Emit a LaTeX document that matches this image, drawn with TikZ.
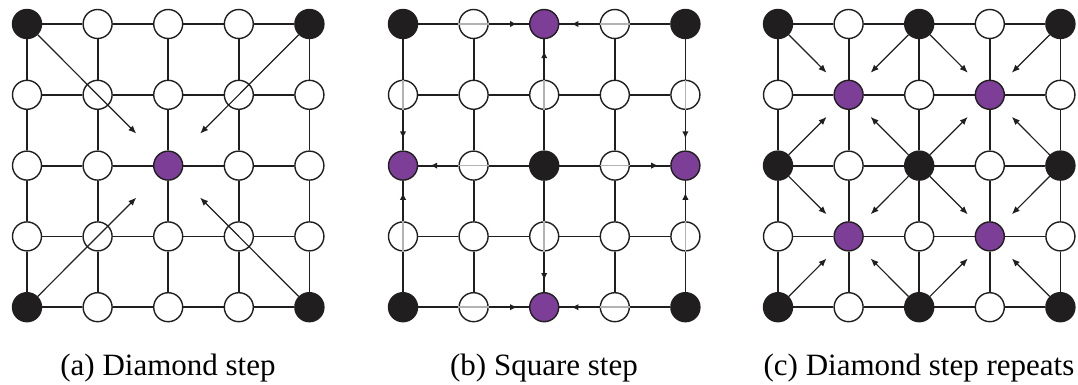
\documentclass[tikz,border=0pt]{standalone}
\usepackage{fontspec}
\setmainfont{Liberation Serif}
\usetikzlibrary{arrows.meta}
\definecolor{pur}{RGB}{125,62,152}
\definecolor{blk}{RGB}{33,30,31}
\tikzset{
  nd/.style={circle, minimum size=29pt, inner sep=0pt, draw=blk, line width=1.4pt},
  wnode/.style={nd, fill=white},
  bnode/.style={nd, fill=blk},
  pnode/.style={nd, fill=pur},
  gridline/.style={draw=blk, line width=1.8pt},
  arr/.style={draw=blk, line width=1.2pt, -{Latex[length=8pt,width=6.5pt]}},
  barr/.style={draw=black!30, line width=1.5pt, -{Latex[length=7pt,width=6.5pt,color=blk]}},
  captext/.style={font=\fontsize{31}{36}\selectfont, anchor=base}
}
\begin{document}
\begin{tikzpicture}[x=1pt,y=-1pt]
\useasboundingbox (0,0) rectangle (1078,385);
% ---------- nodes ----------
\foreach \p/\xo/\kind in {a/27/1,b/403/2,c/778/3}{
  \foreach \i in {0,...,4}{
    \foreach \j in {0,...,4}{
      \ifcase\kind\or
        \pgfmathtruncatemacro\nt{ifthenelse(mod(\i,4)==0 && mod(\j,4)==0,1,ifthenelse(\i==2 && \j==2,2,0))}
      \or
        \pgfmathtruncatemacro\nt{ifthenelse(mod(\i,2)==0 && mod(\j,2)==0,ifthenelse(mod(\i+\j,4)==0,1,2),0)}
      \or
        \pgfmathtruncatemacro\nt{ifthenelse(mod(\i,2)==0 && mod(\j,2)==0,1,ifthenelse(mod(\i,2)==1 && mod(\j,2)==1,2,0))}
      \fi
      \ifcase\nt\def\sty{wnode}\or\def\sty{bnode}\or\def\sty{pnode}\fi
      \node[\sty] (\p-\i-\j) at ({\xo+\i*70.6},{24+\j*70.8}) {};
    }
  }
}
% ---------- arrows (a) ----------
\draw[arr, shorten >=30pt] (a-0-0) -- (a-2-2);
\draw[arr, shorten >=30pt] (a-4-0) -- (a-2-2);
\draw[arr, shorten >=30pt] (a-0-4) -- (a-2-2);
\draw[arr, shorten >=30pt] (a-4-4) -- (a-2-2);
% ---------- arrows (b) ----------
\foreach \s/\t in {0-0/2-0,4-0/2-0,0-4/2-4,4-4/2-4,0-0/0-2,0-4/0-2,4-0/4-2,4-4/4-2,2-2/2-0,2-2/2-4,2-2/0-2,2-2/4-2}{
  \draw[barr, shorten >=12pt] (b-\s) -- (b-\t);
}
% ---------- arrows (c) ----------
\foreach \s/\t in {0-0/1-1,2-0/1-1,0-2/1-1,2-2/1-1,
                   2-0/3-1,4-0/3-1,2-2/3-1,4-2/3-1,
                   0-2/1-3,2-2/1-3,0-4/1-3,2-4/1-3,
                   2-2/3-3,4-2/3-3,2-4/3-3,4-4/3-3}{
  \draw[arr, shorten >=16pt] (c-\s) -- (c-\t);
}
% ---------- grid edges ----------
\foreach \p in {a,b,c}{
  \foreach \i [count=\ii from 1] in {0,...,3}{
    \foreach \j in {0,...,4}{
      \draw[gridline] (\p-\i-\j) -- (\p-\ii-\j);
      \draw[gridline] (\p-\j-\i) -- (\p-\j-\ii);
    }
  }
}
% ---------- captions ----------
\node[captext] (capa) at (168,375) {(a) Diamond step};
\node[captext] (capb) at (544,375) {(b) Square step};
\node[captext] (capc) at (919,375) {(c) Diamond step repeats};
\end{tikzpicture}
\end{document}
